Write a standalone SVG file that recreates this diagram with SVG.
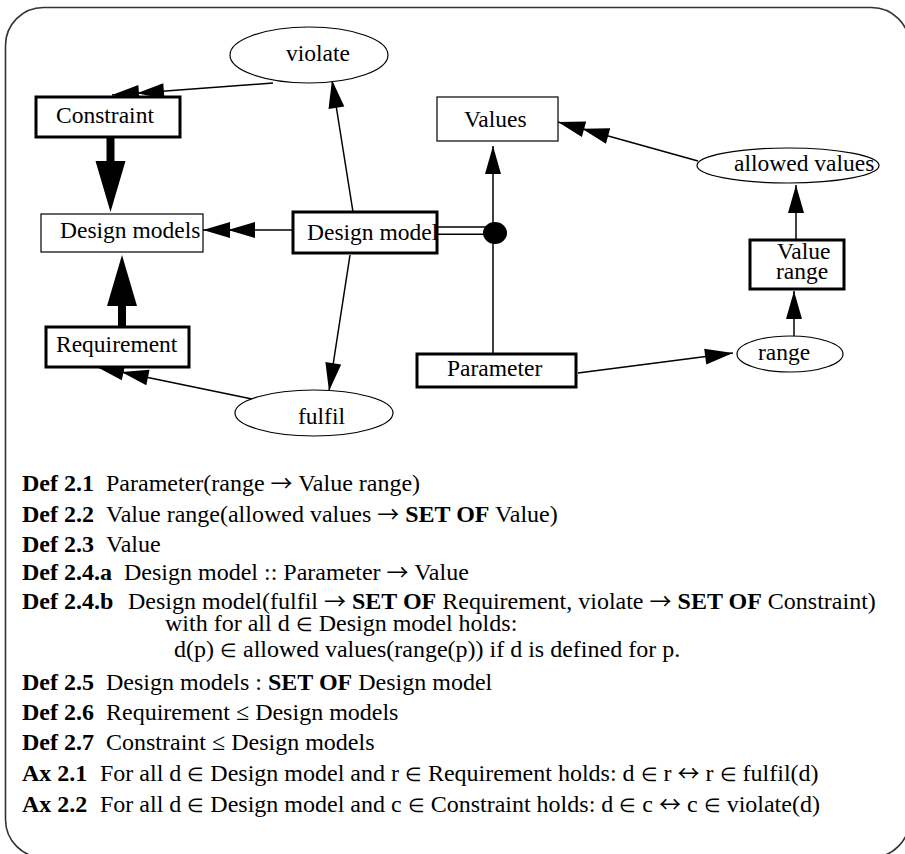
<svg xmlns="http://www.w3.org/2000/svg" width="905" height="854" viewBox="0 0 905 854">
  <defs>
    <style>
      .frame { fill: none; stroke: #333; stroke-width: 1.6; }
      .box { fill: #fff; stroke: #000; stroke-width: 1.2; }
      .box.strong { stroke-width: 3; }
      .oval { fill: #fff; stroke: #000; stroke-width: 1.2; }
      .lbl { font-family: "Liberation Serif", "Times New Roman", serif; font-size: 23.5px; fill: #000; }
      .conn { fill: none; stroke: #000; stroke-width: 1.5; }
      .thick { fill: none; stroke: #000; stroke-width: 8; }
      .def { font-family: "Liberation Serif", "Times New Roman", serif; font-size: 24px; fill: #000; }
      .def .b { font-weight: bold; }
      .def .sym { font-family: "Noto Sans CJK SC", "DejaVu Sans", sans-serif; font-size: 22px; }
      .def .el { font-size: 19px; }
    </style>
    <!-- single filled arrowhead, tip at the end point -->
    <marker id="head" markerUnits="userSpaceOnUse" orient="auto" overflow="visible" refX="0" refY="0" markerWidth="1" markerHeight="1">
      <path d="M0,0 L-28,-8 L-28,8 z" fill="#000"/>
    </marker>
    <!-- two filled arrowheads in a row -->
    <marker id="head2" markerUnits="userSpaceOnUse" orient="auto" overflow="visible" refX="0" refY="0" markerWidth="1" markerHeight="1">
      <path d="M0,0 L-27,-8 L-27,8 z M-25,0 L-52,-8 L-52,8 z" fill="#000"/>
    </marker>
    <!-- large head placed at the end of a thick shaft -->
    <marker id="bighead" markerUnits="userSpaceOnUse" orient="auto" overflow="visible" refX="0" refY="0" markerWidth="1" markerHeight="1">
      <path d="M0,-15 L51,0 L0,15 z" fill="#000"/>
    </marker>
  </defs>

  <rect width="905" height="854" fill="#fff"/>
  <rect class="frame" x="5.5" y="7.5" width="904" height="850" rx="38" ry="38"/>

  <!-- connectors -->
  <g id="connectors">
    <line class="conn" x1="273" y1="83" x2="112" y2="95" marker-end="url(#head2)"/>
    <line class="conn" x1="353" y1="212" x2="332" y2="80" marker-end="url(#head)"/>
    <line class="conn" x1="293" y1="230" x2="203" y2="230" marker-end="url(#head2)"/>
    <line class="conn" x1="350" y1="255" x2="329" y2="391" marker-end="url(#head)"/>
    <line class="conn" x1="252" y1="399" x2="97" y2="367" marker-end="url(#head2)"/>
    <line class="thick" x1="110.5" y1="137" x2="110.5" y2="161" marker-end="url(#bighead)"/>
    <line class="thick" x1="122" y1="327" x2="122" y2="306" marker-end="url(#bighead)"/>
    <!-- double link from Design model to the parameter junction -->
    <line class="conn" x1="437" y1="227" x2="486" y2="227" stroke-width="1.2"/>
    <line class="conn" x1="437" y1="234.3" x2="486" y2="234.3" stroke-width="1.2"/>
    <line class="conn" x1="493" y1="354" x2="493" y2="146" marker-end="url(#head)"/>
    <ellipse cx="495" cy="233" rx="12" ry="11" fill="#000"/>
    <line class="conn" x1="698" y1="161" x2="558" y2="122" marker-end="url(#head2)"/>
    <line class="conn" x1="796" y1="240" x2="796" y2="185" marker-end="url(#head)"/>
    <line class="conn" x1="794" y1="336" x2="794" y2="291" marker-end="url(#head)"/>
    <line class="conn" x1="578" y1="373" x2="733" y2="353" marker-end="url(#head)"/>
  </g>

  <!-- nodes -->
  <g id="violate">
    <ellipse class="oval" cx="309" cy="55" rx="79" ry="28"/>
    <text class="lbl" x="286" y="61">violate</text>
  </g>
  <g id="constraint">
    <rect class="box strong" x="36" y="97" width="144" height="40"/>
    <text class="lbl" x="56" y="123">Constraint</text>
  </g>
  <g id="design-models">
    <rect class="box" x="41" y="214" width="162" height="38"/>
    <text class="lbl" x="60" y="238">Design models</text>
  </g>
  <g id="design-model">
    <rect class="box strong" x="293" y="212" width="144" height="41"/>
    <text class="lbl" x="307" y="240">Design model</text>
  </g>
  <g id="requirement">
    <rect class="box strong" x="46" y="327" width="143" height="40"/>
    <text class="lbl" x="56" y="352">Requirement</text>
  </g>
  <g id="fulfil">
    <ellipse class="oval" cx="314" cy="413" rx="79" ry="23"/>
    <text class="lbl" x="298" y="424">fulfil</text>
  </g>
  <g id="values">
    <rect class="box" x="437" y="97" width="121" height="44"/>
    <text class="lbl" x="464" y="127">Values</text>
  </g>
  <g id="allowed-values">
    <ellipse class="oval" cx="788" cy="165.5" rx="91" ry="17.5"/>
    <text class="lbl" x="734" y="171">allowed values</text>
  </g>
  <g id="value-range">
    <rect class="box strong" x="750" y="240" width="94" height="49"/>
    <text class="lbl" x="777" y="259">Value</text>
    <text class="lbl" x="776" y="279">range</text>
  </g>
  <g id="range">
    <ellipse class="oval" cx="790" cy="354" rx="53" ry="18"/>
    <text class="lbl" x="758" y="360">range</text>
  </g>
  <g id="parameter">
    <rect class="box strong" x="417" y="354" width="159" height="33"/>
    <text class="lbl" x="447" y="376">Parameter</text>
  </g>

  <!-- definitions and axioms -->
  <g id="definitions" class="def">
    <text x="22" y="491"><tspan class="b">Def 2.1</tspan><tspan x="106">Parameter(range </tspan><tspan class="sym">→</tspan> Value range)</text>
    <text x="22" y="522"><tspan class="b">Def 2.2</tspan><tspan x="106">Value range(allowed values </tspan><tspan class="sym">→</tspan> <tspan class="b">SET OF</tspan> Value)</text>
    <text x="22" y="552"><tspan class="b">Def 2.3</tspan><tspan x="106">Value</tspan></text>
    <text x="22" y="580"><tspan class="b">Def 2.4.a</tspan><tspan x="124">Design model :: Parameter </tspan><tspan class="sym">→</tspan> Value</text>
    <text x="22" y="609"><tspan class="b">Def 2.4.b</tspan><tspan x="128">Design model(fulfil </tspan><tspan class="sym">→</tspan> <tspan class="b">SET OF</tspan> Requirement, violate <tspan class="sym">→</tspan> <tspan class="b">SET OF</tspan> Constraint)</text>
    <text x="165" y="631">with for all d <tspan class="el">∈</tspan> Design model holds:</text>
    <text x="174" y="657">d(p) <tspan class="el">∈</tspan> allowed values(range(p)) if d is defined for p.</text>
    <text x="22" y="690"><tspan class="b">Def 2.5</tspan><tspan x="106">Design models : </tspan><tspan class="b">SET OF</tspan> Design model</text>
    <text x="22" y="720"><tspan class="b">Def 2.6</tspan><tspan x="106">Requirement ≤ Design models</tspan></text>
    <text x="22" y="750"><tspan class="b">Def 2.7</tspan><tspan x="106">Constraint ≤ Design models</tspan></text>
    <text x="22" y="781"><tspan class="b">Ax 2.1</tspan><tspan x="100">For all d </tspan><tspan class="el">∈</tspan> Design model and r <tspan class="el">∈</tspan> Requirement holds: d <tspan class="el">∈</tspan> r <tspan class="sym">↔</tspan> r <tspan class="el">∈</tspan> fulfil(d)</text>
    <text x="22" y="812"><tspan class="b">Ax 2.2</tspan><tspan x="100">For all d </tspan><tspan class="el">∈</tspan> Design model and c <tspan class="el">∈</tspan> Constraint holds: d <tspan class="el">∈</tspan> c <tspan class="sym">↔</tspan> c <tspan class="el">∈</tspan> violate(d)</text>
  </g>
</svg>
